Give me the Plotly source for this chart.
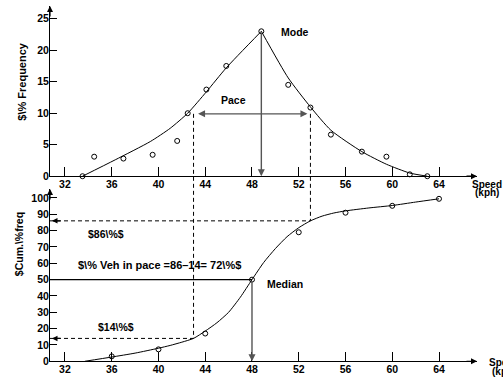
import plotly.graph_objects as go

W, H = 503, 385

# ---- spot speed study: frequency distribution (km/h vs % of vehicles) ----
freq_speed = [33.5, 34.5, 37.0, 39.5, 41.6, 42.5, 44.1, 45.8, 48.8,
              51.1, 53.0, 54.75, 57.4, 59.5, 61.5, 63.0]
freq_pct = [0, 3.1, 2.8, 3.4, 5.6, 10.0, 13.75, 17.5, 23.0,
            14.5, 10.9, 6.6, 3.9, 3.1, 0.3, 0]

# fitted frequency curve, rising and falling branches meeting at the mode
rise_speed = [33.5, 36.3, 39.3, 41.0, 42.5, 44.1, 45.8, 48.8]
rise_pct = [0, 2.6, 5.5, 7.6, 10.0, 13.4, 17.2, 23.0]
fall_speed = [48.8, 51.1, 53.0, 54.75, 57.4, 59.5, 61.5, 63.0]
fall_pct = [23.0, 15.6, 11.0, 7.3, 3.9, 1.9, 0.5, 0]

# ---- cumulative distribution ----
cum_speed = [36, 40, 44, 48, 52, 56, 60, 64]
cum_pct = [3, 7.3, 17, 50, 79, 91, 95.2, 99.5]

ccurve_speed = [33.7, 36, 38, 40, 41, 42, 43, 44, 45, 46, 47, 48, 49, 50,
                51, 52, 53, 54, 55, 56, 58, 60, 62, 64]
ccurve_pct = [0, 2.6, 5, 8, 9.7, 11.7, 14, 18.5, 23.6, 30, 39.2, 50, 60.5, 69,
              76.3, 81.8, 86, 88.9, 90.8, 92.1, 93.9, 95.4, 97.5, 99.5]

speed_ticks = [32, 36, 40, 44, 48, 52, 56, 60, 64]
freq_ticks = [0, 5, 10, 15, 20, 25]
cum_ticks = [0, 10, 20, 30, 40, 50, 60, 70, 80, 90, 100]

# key statistics
pace_lo, pace_hi = 43, 53
pace_level = 9.9
mode_speed, mode_pct = 48.8, 23.0
median_speed, median_pct = 48, 50
pct_lo, pct_hi = 14, 86

# ---- layout geometry ----
def px(x):
    return x / W

def py(y):
    return 1 - y / H

X_RANGE = [30.72, 67.25]
X_DOM = [px(50), px(477)]
Y1_RANGE = [0, 27.03]
Y1_DOM = [py(179), py(6)]
Y2_RANGE = [0, 105.5]
Y2_DOM = [py(367), py(192)]


def on_paper(v, rng, dom):
    return dom[0] + (v - rng[0]) / (rng[1] - rng[0]) * (dom[1] - dom[0])


FONT = "Liberation Sans"
ARROW = "#555555"

fig = go.Figure()

marker = dict(symbol="circle-open", size=5, color="black", line=dict(width=1))
curve = dict(color="black", width=1)

fig.add_trace(go.Scatter(x=rise_speed, y=rise_pct, mode="lines",
                         line=dict(shape="spline", smoothing=0.6, **curve),
                         xaxis="x", yaxis="y", cliponaxis=False))
fig.add_trace(go.Scatter(x=fall_speed, y=fall_pct, mode="lines",
                         line=dict(shape="spline", smoothing=0.6, **curve),
                         xaxis="x", yaxis="y", cliponaxis=False))
fig.add_trace(go.Scatter(x=freq_speed, y=freq_pct, mode="markers",
                         marker=marker, xaxis="x", yaxis="y", cliponaxis=False))

fig.add_trace(go.Scatter(x=ccurve_speed, y=ccurve_pct, mode="lines",
                         line=dict(shape="spline", smoothing=0.6, **curve),
                         xaxis="x2", yaxis="y2", cliponaxis=False))
fig.add_trace(go.Scatter(x=cum_speed, y=cum_pct, mode="markers",
                         marker=marker, xaxis="x2", yaxis="y2", cliponaxis=False))

shapes = []
# pace limits carried down from the frequency curve to the cumulative curve
shapes.append(dict(type="line", xref="x", yref="paper",
                   x0=pace_lo, x1=pace_lo,
                   y0=on_paper(pace_level, Y1_RANGE, Y1_DOM),
                   y1=on_paper(pct_lo, Y2_RANGE, Y2_DOM),
                   line=dict(color="black", width=1, dash="4px,3px")))
shapes.append(dict(type="line", xref="x", yref="paper",
                   x0=pace_hi, x1=pace_hi,
                   y0=on_paper(pace_level, Y1_RANGE, Y1_DOM),
                   y1=on_paper(pct_hi, Y2_RANGE, Y2_DOM),
                   line=dict(color="black", width=1, dash="4px,3px")))
# horizontal read-offs on the cumulative axis
for spd, pct in [(pace_lo, pct_lo), (pace_hi, pct_hi)]:
    shapes.append(dict(type="line", xref="x2", yref="y2",
                       x0=X_RANGE[0], x1=spd, y0=pct, y1=pct,
                       line=dict(color="black", width=1, dash="4px,3px")))
shapes.append(dict(type="line", xref="x2", yref="y2",
                   x0=X_RANGE[0], x1=median_speed, y0=median_pct, y1=median_pct,
                   line=dict(color="black", width=1.3)))

ann = []


def axis_arrow(x, y, dx, dy):
    ann.append(dict(xref="paper", yref="paper", x=x, y=y, ax=dx, ay=dy,
                    text="", showarrow=True, arrowhead=2, arrowsize=1,
                    arrowwidth=1.2, arrowcolor="black", standoff=0))


# arrow tips at the ends of every axis
axis_arrow(X_DOM[0], Y1_DOM[1], 0, 12)
axis_arrow(X_DOM[1], Y1_DOM[0], -12, 0)
axis_arrow(X_DOM[0], Y2_DOM[1], 0, 12)
axis_arrow(X_DOM[1], Y2_DOM[0], -12, 0)

# mode drop line
ann.append(dict(xref="x", yref="y", axref="x", ayref="y",
                x=mode_speed, y=0, ax=mode_speed, ay=mode_pct,
                text="", showarrow=True, arrowhead=2, arrowsize=1,
                arrowwidth=1.4, arrowcolor=ARROW, standoff=0))
# pace span
ann.append(dict(xref="x", yref="y", axref="x", ayref="y",
                x=pace_hi, y=pace_level, ax=pace_lo, ay=pace_level,
                text="", showarrow=True, arrowhead=2, startarrowhead=2,
                arrowside="end+start", arrowsize=1, startarrowsize=1,
                arrowwidth=1.4, arrowcolor=ARROW, standoff=3, startstandoff=3))
# median drop line
ann.append(dict(xref="x2", yref="y2", axref="x2", ayref="y2",
                x=median_speed, y=0, ax=median_speed, ay=median_pct,
                text="", showarrow=True, arrowhead=2, arrowsize=1,
                arrowwidth=1.4, arrowcolor=ARROW, standoff=0))
# arrowheads where the percentile read-offs meet the axis
for pct in (pct_lo, pct_hi):
    ann.append(dict(xref="paper", yref="y2", x=X_DOM[0] + px(2), y=pct,
                    ax=10, ay=0, text="", showarrow=True, arrowhead=2,
                    arrowsize=1, arrowwidth=1.1, arrowcolor="black", standoff=0))


def label(text, x, y, size=10.5, xanchor="center", angle=0):
    ann.append(dict(xref="paper", yref="paper", x=px(x), y=py(y),
                    text=text, showarrow=False, xanchor=xanchor,
                    yanchor="middle", textangle=angle,
                    font=dict(family=FONT, size=size, color="black", weight=700)))


label("Mode", 295, 32)
label("Pace", 233, 102)
label("$86\\%$", 106, 238)
label("$\\% Veh in pace =86–14= 72\\%$", 76, 269, size=11, xanchor="left")
label("$14\\%$", 116, 332)
label("Median", 285, 289)
label("Speed", 470, 187, size=10, xanchor="left")
label("(kph)", 473, 196, size=10, xanchor="left")
label("Speed", 487, 368, size=10, xanchor="left")
label("(kph)", 490, 377, size=10, xanchor="left")
label("$\\% Frequency", 22, 83, size=11, angle=-90)
label("$Cum.\\%freq", 19, 248, size=10.5, angle=-90)

tickfont = dict(family=FONT, size=10.5, color="black", weight=700)
xcommon = dict(range=X_RANGE, domain=X_DOM, tickvals=speed_ticks,
               ticks="inside", ticklen=9, tickwidth=1, tickcolor="black",
               showline=True, linecolor="black", linewidth=1,
               showgrid=False, zeroline=False, tickfont=tickfont,
               ticklabelstandoff=-2, fixedrange=True)
ycommon = dict(ticks="inside", ticklen=7, tickwidth=1, tickcolor="black",
               showline=True, linecolor="black", linewidth=1,
               showgrid=False, zeroline=False, tickfont=tickfont,
               ticklabelstandoff=-2, fixedrange=True)

fig.update_layout(
    width=W, height=H,
    margin=dict(l=0, r=0, t=0, b=0),
    paper_bgcolor="white", plot_bgcolor="white",
    showlegend=False,
    xaxis=dict(anchor="y", **xcommon),
    yaxis=dict(anchor="x", range=Y1_RANGE, domain=Y1_DOM,
               tickvals=freq_ticks, **ycommon),
    xaxis2=dict(anchor="y2", **xcommon),
    yaxis2=dict(anchor="x2", range=Y2_RANGE, domain=Y2_DOM,
                tickvals=cum_ticks, **ycommon),
    shapes=shapes,
    annotations=ann,
)

fig.write_html("out.html", config={"displayModeBar": False})
